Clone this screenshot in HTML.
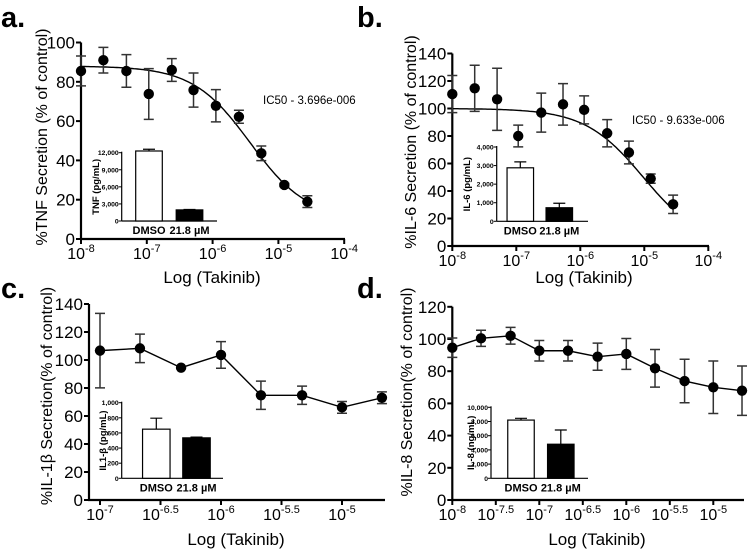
<!DOCTYPE html>
<html><head><meta charset="utf-8"><style>
html,body{margin:0;padding:0;background:#fff;}
svg{display:block;font-family:"Liberation Sans",Arial,sans-serif;}
</style></head><body>
<svg id="fig" width="750" height="550" viewBox="0 0 750 550" xmlns="http://www.w3.org/2000/svg">
<text x="1" y="27" font-size="29" font-weight="bold">a.</text>
<text x="357" y="27" font-size="29" font-weight="bold">b.</text>
<text x="1" y="298" font-size="29" font-weight="bold">c.</text>
<text x="357" y="298" font-size="29" font-weight="bold">d.</text>
</svg>
<script>
// ---- data ----
const aLogX=[-8,-7.66,-7.31,-6.97,-6.62,-6.29,-5.95,-5.6,-5.26,-4.91,-4.56];
const aY=[85.5,91,85.5,73.8,86,75.8,67.8,62.2,43.6,27.5,19];
const aErr=[7.6,6.5,8.3,12.9,5.8,8.7,8.2,3.3,3.7,0.8,3];
const aFit=[88,10,-5.43,1];
const bLogX=[-8,-7.65,-7.3,-6.97,-6.61,-6.27,-5.94,-5.58,-5.24,-4.9,-4.55];
const bY=[110.5,114.7,106.7,80,97,103,99,82,68,49,30.3];
const bErr=[13.5,16.8,22.6,7.9,14.2,15.1,10.2,9.9,8.3,3.4,6.7];
const bFit=[100,0,-5.016,0.95];
const cLogX=[-7,-6.67,-6.33,-6,-5.67,-5.33,-5,-4.67];
const cY=[106.7,108.3,94.5,103.6,74.8,74.8,66.2,73];
const cErr=[26.6,10.2,0.5,9.5,10.1,6.5,4.2,4.2];
const dLogX=[-8,-7.67,-7.33,-7,-6.67,-6.33,-6,-5.67,-5.33,-5,-4.67];
const dY=[94.6,100.4,102,92.7,92.7,89,90.7,81.8,73.9,70,67.9];
const dErr=[6,5,5.2,6.4,6.4,8.4,9.6,11.7,13.5,16.3,15.3];
const insetCats=["DMSO","21.8 µM"];
const aInsetVals=[12300,1950];
const aInsetErr=[300,80];
const bInsetVals=[2880,730];
const bInsetErr=[320,240];
const cInsetVals=[650,535];
const cInsetErr=[145,10];
const dInsetVals=[8200,4800];
const dInsetErr=[250,2000];
const aYTicks=[0,20,40,60,80,100];
const bYTicks=[0,20,40,60,80,100,120,140];
const cYTicks=[0,20,40,60,80,100,120,140];
const dYTicks=[0,20,40,60,80,100,120];
const abXTicks=[-8,-7,-6,-5,-4];
const cXTicks=[-7,-6.5,-6,-5.5,-5];
const dXTicks=[-8,-7.5,-7,-6.5,-6,-5.5,-5];
const aInsetTicks=[0,3000,6000,9000,12000];
const bInsetTicks=[0,1000,2000,3000,4000];
const cInsetTicks=[0,200,400,600,800,1000];
const dInsetTicks=[0,2000,4000,6000,8000,10000];

const NS="http://www.w3.org/2000/svg";
const svg=document.getElementById('fig');
function el(tag,attrs,parent){const e=document.createElementNS(NS,tag);for(const k in attrs)e.setAttribute(k,attrs[k]);(parent||svg).appendChild(e);return e;}
function fmt(v){return v.toLocaleString('en-US');}

function panel(p){
  const g=el('g',{});
  
  
  const X=l=>p.x0+(l-p.l0)*p.ppd, Y=v=>p.y0-v*p.ppu;
  const ya=el('line',{x1:p.yAxisX,y1:Y(p.yTicks[p.yTicks.length-1]),x2:p.yAxisX,y2:p.y0+1,stroke:'#000','stroke-width':2.2},g);
  
  const xa=el('line',{x1:p.yAxisX-1,y1:p.y0,x2:p.xEnd,y2:p.y0,stroke:'#000','stroke-width':2.2},g);
  
  p.yTicks.forEach(v=>{
    el('line',{x1:p.yAxisX-5,y1:Y(v),x2:p.yAxisX,y2:Y(v),stroke:'#000','stroke-width':2},g);
    const t=el('text',{x:p.yAxisX-6,y:Y(v)+6,'font-size':17,'text-anchor':'end'},g);
    t.textContent=v;
    
  });
  p.xTicks.forEach(l=>{
    el('line',{x1:X(l),y1:p.y0,x2:X(l),y2:p.y0+5,stroke:'#000','stroke-width':2},g);
    const t=el('text',{x:X(l),y:p.y0+20,'font-size':16,'text-anchor':'middle'},g);
    
    const s1=el('tspan',{},t);s1.textContent='10';
    const s2=el('tspan',{dy:-7,'font-size':11},t);s2.textContent=String(l);
  });
  const yt=el('text',{x:0,y:0,'font-size':16,'text-anchor':'middle',transform:`translate(${p.ytX},${p.ytY}) rotate(-90)`},g);
  yt.textContent=p.yTitle;
  const xt=el('text',{x:p.xtX,y:p.xtY,'font-size':17,'text-anchor':'middle'},g);
  xt.textContent='Log (Takinib)';
  if(p.fit){
    const [top,bot,ic,h]=p.fit;let d='';
    const l1=p.lx[0],l2=p.lx[p.lx.length-1];
    for(let i=0;i<=120;i++){const l=l1+(l2-l1)*i/120;const v=bot+(top-bot)/(1+Math.pow(10,(l-ic)*h));d+=(i?'L':'M')+X(l).toFixed(1)+','+Y(v).toFixed(1);}
    const c=el('path',{d:d,fill:'none',stroke:'#000','stroke-width':1.4},g);
    
  } else {
    const d=p.lx.map((l,i)=>(i?'L':'M')+X(l)+','+Y(p.ys[i])).join('');
    const c=el('path',{d:d,fill:'none',stroke:'#000','stroke-width':1.4},g);
    
  }
  p.lx.forEach((l,i)=>{
    const x=X(l),v=p.ys[i],e=p.err[i];
    const eb=el('path',{d:`M${x},${Y(v+e)}L${x},${Y(v-e)}M${x-5},${Y(v+e)}L${x+5},${Y(v+e)}M${x-5},${Y(v-e)}L${x+5},${Y(v-e)}`,stroke:'#333','stroke-width':1.5,fill:'none'},g);
    
    const pt=el('circle',{cx:x,cy:Y(v),r:5.2,fill:'#000'},g);
    
  });
  if(p.ic50){
    const t=el('text',{x:p.ic50[0],y:p.ic50[1],'font-size':11.5},g);
    t.textContent=p.ic50[2];
  }
  inset(p.inset,g,p.id);
}
function inset(q,pg,id){
  const g=el('g',{},pg);
  
  
  const max=q.ticks[q.ticks.length-1];
  const Y=v=>q.y0-(v/max)*(q.y0-q.yTop);
  el('line',{x1:q.ax,y1:q.yTop-1,x2:q.ax,y2:q.y0,stroke:'#000','stroke-width':1.2},g);
  el('line',{x1:q.ax,y1:q.y0,x2:q.xEnd,y2:q.y0,stroke:'#000','stroke-width':1.2},g);
  q.ticks.forEach(v=>{
    el('line',{x1:q.ax-3,y1:Y(v),x2:q.ax,y2:Y(v),stroke:'#000','stroke-width':1},g);
    const t=el('text',{x:q.ax-3,y:Y(v)+2.5,'font-size':6.8,'font-weight':'bold','text-anchor':'end'},g);
    t.textContent=fmt(v);
  });
  q.vals.forEach((v,i)=>{
    const cx=q.cx[i],w=q.w,e=q.err[i];
    el('path',{d:`M${cx},${Y(v)}L${cx},${Y(v+e)}M${cx-6},${Y(v+e)}L${cx+6},${Y(v+e)}`,stroke:'#000','stroke-width':1.2},g);
    const r=el('rect',{x:cx-w/2,y:Y(v),width:w,height:q.y0-Y(v),fill:i?'#000':'#fff',stroke:'#000','stroke-width':1.2},g);
    
    const t=el('text',{x:cx,y:q.y0+13,'font-size':11,'font-weight':'bold','text-anchor':'middle'},g);
    t.textContent=insetCats[i];
  });
  const yt=el('text',{x:0,y:0,'font-size':9.5,'font-weight':'bold','text-anchor':'middle',transform:`translate(${q.ytX},${(q.y0+q.yTop)/2}) rotate(-90)`},g);
  yt.textContent=q.title;
}
panel({id:'a',x0:81,l0:-8,ppd:65.8,y0:239,ppu:1.965,yAxisX:81,xEnd:345,yTicks:aYTicks,xTicks:abXTicks,
  lx:aLogX,ys:aY,err:aErr,fit:aFit,yTitle:'%TNF Secretion (% of control)',ytX:47,ytY:137,xtX:212,xtY:283,
  ic50:[263,104,'IC50 - 3.696e-006'],
  inset:{ax:121.7,y0:221,yTop:152.7,xEnd:217,ticks:aInsetTicks,vals:aInsetVals,err:aInsetErr,cx:[149,189.5],w:26.6,title:'TNF (pg/mL)',ytX:99}});
panel({id:'b',x0:452.3,l0:-8,ppd:64,y0:246,ppu:1.375,yAxisX:452.3,xEnd:709,yTicks:bYTicks,xTicks:abXTicks,
  lx:bLogX,ys:bY,err:bErr,fit:bFit,yTitle:'%IL-6 Secretion (% of control)',ytX:416,ytY:142,xtX:584,xtY:283,
  ic50:[632,124,'IC50 - 9.633e-006'],
  inset:{ax:496.7,y0:221.3,yTop:147,xEnd:588,ticks:bInsetTicks,vals:bInsetVals,err:bInsetErr,cx:[520.3,559.3],w:26.5,title:'IL-6 (pg/mL)',ytX:470}});
panel({id:'c',x0:100,l0:-7,ppd:121,y0:500,ppu:1.4,yAxisX:89,xEnd:385,yTicks:cYTicks,xTicks:cXTicks,
  lx:cLogX,ys:cY,err:cErr,fit:null,yTitle:'%IL-1β Secretion(% of control)',ytX:52,ytY:396,xtX:236,xtY:545,
  inset:{ax:121.7,y0:478.3,yTop:402.7,xEnd:223,ticks:cInsetTicks,vals:cInsetVals,err:cInsetErr,cx:[156.3,196.5],w:27.5,title:'IL1-β (pg/mL)',ytX:106}});
panel({id:'d',x0:452.3,l0:-8,ppd:87,y0:500,ppu:1.61,yAxisX:452.3,xEnd:744,yTicks:dYTicks,xTicks:dXTicks,
  lx:dLogX,ys:dY,err:dErr,fit:null,yTitle:'%IL-8 Secretion(% of control)',ytX:412,ytY:392,xtX:597,xtY:545,
  inset:{ax:491,y0:478.3,yTop:407.3,xEnd:588,ticks:dInsetTicks,vals:dInsetVals,err:dInsetErr,cx:[521,560.8],w:26.5,title:'IL-8 (ng/mL)',ytX:474}});
</script>
</body></html>
